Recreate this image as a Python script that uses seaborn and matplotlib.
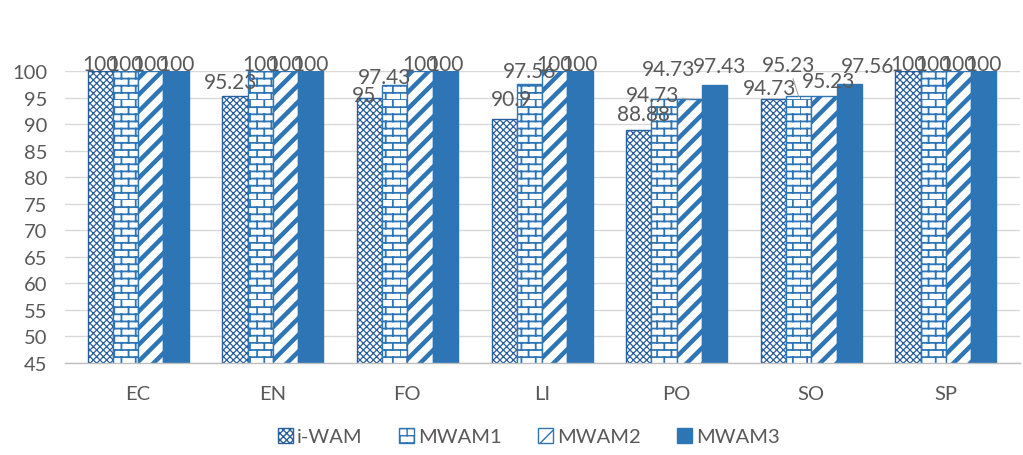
import warnings
import numpy as np
import pandas as pd
import matplotlib
matplotlib.use("Agg")
import matplotlib.pyplot as plt
import matplotlib.hatch as mhatch
from matplotlib.path import Path
from matplotlib.patches import Patch
import seaborn as sns

warnings.filterwarnings("ignore")

# ---- data -------------------------------------------------------------
categories = ["EC", "EN", "FO", "LI", "PO", "SO", "SP"]
series = ["i-WAM", "MWAM1", "MWAM2", "MWAM3"]
i_wam = [100, 95.23, 95, 90.9, 88.88, 94.73, 100]
mwam1 = [100, 100, 97.43, 97.56, 94.73, 95.23, 100]
mwam2 = [100, 100, 100, 100, 94.73, 95.23, 100]
mwam3 = [100, 100, 100, 100, 97.43, 97.56, 100]
yticks = list(range(45, 101, 5))

values = [i_wam, mwam1, mwam2, mwam3]
df = pd.DataFrame({
    "category": np.repeat([categories], len(series), axis=0).ravel(),
    "series": np.repeat(series, len(categories)),
    "value": np.concatenate(values),
})


# ---- brick hatch pattern ('b') ----------------------------------------
class BrickHatch(mhatch.HatchPatternBase):
    def __init__(self, hatch, density):
        self.rows = 14 * hatch.count("b")
        self.cols = 7 * hatch.count("b")
        self.num_vertices = self.rows * 2 + self.rows * self.cols * 2

    def set_vertices_and_codes(self, vertices, codes):
        h = 1.0 / self.rows
        w = 1.0 / self.cols
        verts = []
        for r in range(self.rows):
            y = r * h
            verts += [(0.0, y), (1.0, y)]
        for r in range(self.rows):
            y0 = r * h
            shift = 0.0 if r % 2 == 0 else w / 2
            for c in range(self.cols):
                x = c * w + shift
                verts += [(x, y0), (x, y0 + h)]
        vertices[:] = np.array(verts)
        codes[0::2] = Path.MOVETO
        codes[1::2] = Path.LINETO


mhatch._hatch_types.append(BrickHatch)

# ---- style ------------------------------------------------------------
sns.set_theme(style="white")
plt.rcParams["font.family"] = ["Lato", "DejaVu Sans"]
text_color = "#595959"
blue = "#2E75B6"
dark_blue = "#2A5F9E"

fig = plt.figure(figsize=(10.23, 4.56), dpi=100)
ax = fig.add_axes([0.064, 0.202, 0.933, 0.640])

sns.barplot(data=df, x="category", y="value", hue="series",
            order=categories, hue_order=series, width=0.75,
            palette=[blue] * 4, saturation=1, ax=ax, legend=False, zorder=2)

styles = [
    dict(face="white", edge=dark_blue, hatch="xxxxx", lw=0.9),
    dict(face="white", edge=blue, hatch="b", lw=1.3),
    dict(face="white", edge=blue, hatch="//", lw=3.2),
    dict(face=blue, edge=blue, hatch=None, lw=1.0),
]
for cont, st in zip(ax.containers, styles):
    for bar in cont:
        bar.set_facecolor(st["face"])
        bar.set_edgecolor(st["edge"])
        bar.set_linewidth(1.0)
        if st["hatch"]:
            bar.set_hatch(st["hatch"])
            try:
                bar.set_hatch_linewidth(st["lw"])
            except AttributeError:
                pass

ax.set_ylim(45, 100)
ax.set_xlim(-0.54, 6.55)
ax.set_yticks(yticks)
ax.yaxis.grid(True, color="#D9D9D9", linewidth=1.0, zorder=0)
ax.set_axisbelow(True)
for side in ["top", "right", "left"]:
    ax.spines[side].set_visible(False)
ax.spines["bottom"].set_color("#BFBFBF")
ax.spines["bottom"].set_linewidth(1.0)
ax.set_xlabel("")
ax.set_ylabel("")
ax.tick_params(axis="both", length=0, labelsize=14.5, colors=text_color)
ax.tick_params(axis="x", pad=16)
ax.tick_params(axis="y", pad=13)

# ---- value labels -----------------------------------------------------
# (dx, dy, leader) in pixels relative to the bar top; default sits just above
label_shift = {
    ("EN", 0): (-4, 14, False),
    ("FO", 0): (-6, 3, False),
    ("FO", 1): (-10, 8, False),
    ("LI", 0): (7, 20, False),
    ("LI", 1): (0, 13, False),
    ("PO", 0): (5, 16, False),
    ("PO", 1): (5, 30, False),
    ("PO", 2): (-37, 4, True),
    ("PO", 3): (5, 19, False),
    ("SO", 0): (-4, 11, False),
    ("SO", 1): (-10, 31, True),
    ("SO", 2): (5, 15, False),
    ("SO", 3): (18, 18, False),
}
for si, cont in enumerate(ax.containers):
    for ci, bar in enumerate(cont):
        val = values[si][ci]
        x = bar.get_x() + bar.get_width() / 2
        dx, dy, leader = label_shift.get((categories[ci], si), (0, 7, False))
        txt = f"{val:g}"
        kw = {}
        if leader:
            kw["arrowprops"] = dict(arrowstyle="-", color="#A6A6A6", lw=0.8,
                                    shrinkA=0, shrinkB=0)
        ax.annotate(txt, xy=(x, val), xytext=(dx, dy),
                    textcoords="offset pixels", ha="center", va="center",
                    fontsize=15, color=text_color, zorder=5,
                    annotation_clip=False, **kw)

# ---- legend -----------------------------------------------------------
handles = []
for name, st in zip(series, styles):
    p = Patch(facecolor=st["face"], edgecolor=st["edge"], hatch=st["hatch"],
              label=name)
    handles.append(p)
leg = fig.legend(handles=handles, loc="center", bbox_to_anchor=(0.517, 0.04),
                 ncol=4, frameon=False, fontsize=14.5, handlelength=0.75,
                 handleheight=0.75, handletextpad=0.2, columnspacing=1.8)
for t in leg.get_texts():
    t.set_color(text_color)

fig.savefig("out.png", dpi=100)
